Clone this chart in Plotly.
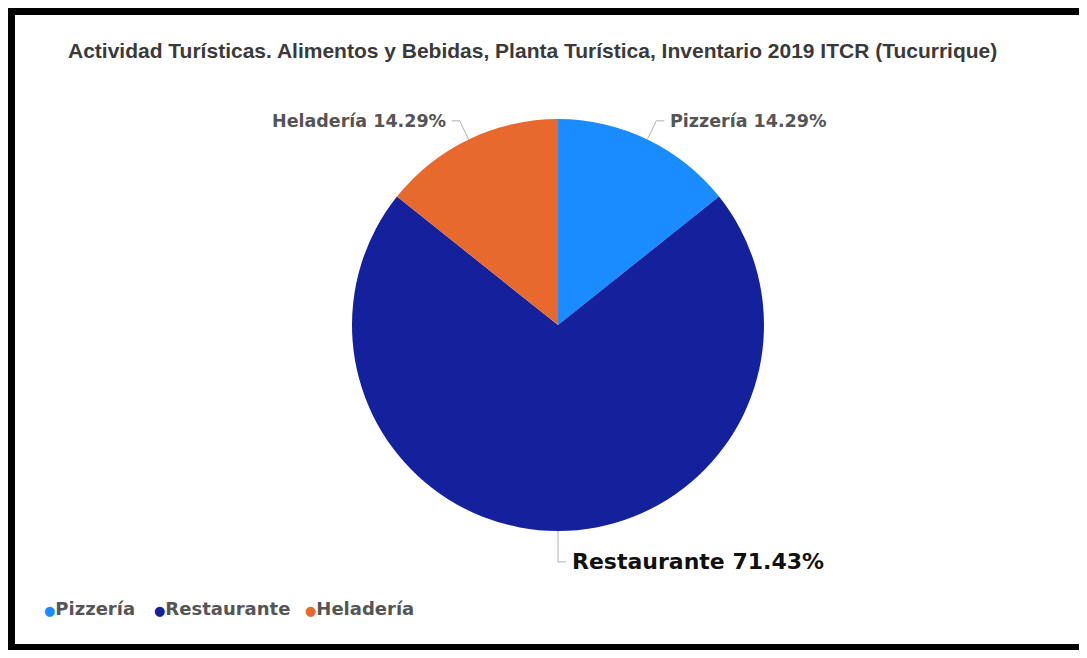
import math
import plotly.graph_objects as go

# ---- data ----
categories = ["Pizzería", "Restaurante", "Heladería"]
values = [1, 5, 1]
percent_labels = ["14.29%", "71.43%", "14.29%"]
colors = ["#1A8CFF", "#14209C", "#E8692E"]
title_text = "Actividad Turísticas. Alimentos y Bebidas, Planta Turística, Inventario 2019 ITCR (Tucurrique)"

WIN_W, WIN_H = 1087, 658
OFF = 8  # page body margin offset of the figure inside the window
W, H = WIN_W - 2 * OFF, WIN_H - 2 * OFF
cx, cy, R = 558, 325, 206  # pie centre / radius in window px


def px(x):
    return min(1.0, max(0.0, (x - OFF) / W))


def py(y):
    return min(1.0, max(0.0, 1 - (y - OFF) / H))


fig = go.Figure()
fig.add_trace(go.Pie(
    labels=categories, values=values, sort=False, direction="clockwise",
    rotation=0, textinfo="none", hoverinfo="label+percent",
    marker=dict(colors=colors, line=dict(width=0)),
    domain=dict(x=[px(cx - R), px(cx + R)], y=[py(cy + R), py(cy - R)]),
    showlegend=False,
))

shapes = []
annotations = []

total = sum(values)
cum = 0
label_styles = [
    dict(size=17.5, color="#555555"),
    dict(size=22, color="#111111"),
    dict(size=17.5, color="#555555"),
]
elbow = [1.1, 1.15, 1.1]
for i, v in enumerate(values):
    mid = (cum + v / 2) / total * 2 * math.pi
    cum += v
    sx, sy = cx + R * math.sin(mid), cy - R * math.cos(mid)
    ex, ey = cx + R * elbow[i] * math.sin(mid), cy - R * elbow[i] * math.cos(mid)
    side = 1 if math.sin(mid) >= -1e-9 else -1
    hx = ex + side * 8
    shapes.append(dict(type="path", xref="paper", yref="paper",
                       path=f"M {px(sx)} {py(sy)} L {px(ex)} {py(ey)} L {px(hx)} {py(ey)}",
                       line=dict(color="#b0b0b0", width=1)))
    annotations.append(dict(
        x=px(hx + side * 4), y=py(ey), xref="paper", yref="paper",
        text=f"<b>{categories[i]} {percent_labels[i]}</b>", showarrow=False,
        xanchor="left" if side > 0 else "right", yanchor="middle",
        font=dict(family="DejaVu Sans", **label_styles[i]),
    ))

# title
annotations.append(dict(
    x=px(66), y=py(50), xref="paper", yref="paper", xanchor="left", yanchor="middle",
    text=f"<b>{title_text}</b>", showarrow=False,
    font=dict(family="Liberation Sans", size=21, color="#3a3a3a"),
))

# legend (dot + name)
legend_x = [42, 152, 303]
for i, name in enumerate(categories):
    annotations.append(dict(
        x=px(legend_x[i]), y=py(608), xref="paper", yref="paper",
        xanchor="left", yanchor="middle", showarrow=False,
        text=f"<span style='color:{colors[i]};font-size:13px'>●</span><b>{name}</b>",
        font=dict(family="DejaVu Sans", size=18, color="#555555"),
    ))

# black frame (window coords, clamped to the figure)
frame = [
    (0, 5, WIN_W, 15),          # top
    (7, 5, 15, WIN_H),          # left
    (0, 644, WIN_W, WIN_H),     # bottom (at the figure's lower edge)
]
for x0, y0, x1, y1 in frame:
    shapes.append(dict(type="rect", xref="paper", yref="paper",
                       x0=px(x0), x1=px(x1), y0=py(y1), y1=py(y0),
                       fillcolor="black", line=dict(width=0), layer="above"))

fig.update_layout(
    width=W, height=H, margin=dict(l=0, r=0, t=0, b=0),
    paper_bgcolor="white", plot_bgcolor="white",
    shapes=shapes, annotations=annotations, showlegend=False,
)

fig.write_html("out.html")
